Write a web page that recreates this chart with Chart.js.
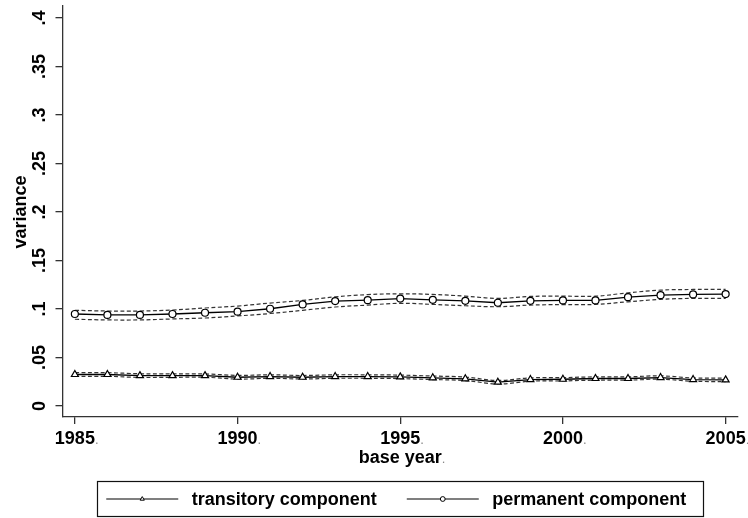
<!DOCTYPE html>
<html>
<head>
<meta charset="utf-8">
<script src="https://cdn.jsdelivr.net/npm/chart.js@4/dist/chart.umd.min.js"></script>
<style>
  html, body { margin: 0; background: #fff; }
  #wrap { width: 748px; height: 518px; }
</style>
</head>
<body>
<div id="wrap"><canvas id="chart" width="748" height="518"></canvas></div>
<script>
// base years and estimated variances
const years = [1985,1986,1987,1988,1989,1990,1991,1992,1993,1994,1995,1996,1997,1998,1999,2000,2001,2002,2003,2004,2005];
const transitory   = [0.0325,0.0325,0.0314,0.0314,0.0314,0.0297,0.0304,0.0297,0.0304,0.0304,0.0301,0.0291,0.0281,0.0246,0.0273,0.0276,0.0284,0.0284,0.0294,0.0273,0.0270];
const transitoryHi = [0.0345,0.0344,0.0333,0.0332,0.0331,0.0316,0.0322,0.0315,0.0322,0.0322,0.0319,0.0309,0.0299,0.0264,0.0290,0.0293,0.0301,0.0301,0.0311,0.0290,0.0288];
const transitoryLo = [0.0305,0.0306,0.0295,0.0296,0.0297,0.0278,0.0286,0.0279,0.0286,0.0286,0.0283,0.0273,0.0263,0.0228,0.0256,0.0259,0.0267,0.0267,0.0277,0.0256,0.0252];
const permanent    = [0.0949,0.0939,0.0939,0.0949,0.0962,0.0973,0.1003,0.1048,0.1082,0.1092,0.1108,0.1095,0.1085,0.1065,0.1085,0.1089,0.1089,0.1123,0.1143,0.1151,0.1154];
const permanentHi  = [0.0987,0.0980,0.0980,0.0990,0.1011,0.1031,0.1062,0.1089,0.1126,0.1149,0.1157,0.1151,0.1133,0.1110,0.1130,0.1133,0.1133,0.1167,0.1195,0.1202,0.1202];
const permanentLo  = [0.0895,0.0888,0.0888,0.0898,0.0908,0.0929,0.0954,0.0987,0.1021,0.1041,0.1059,0.1048,0.1034,0.1024,0.1041,0.1046,0.1048,0.1075,0.1100,0.1110,0.1110];

const xTicks = [1985, 1990, 1995, 2000, 2005];
const yTicks = [0, 0.05, 0.1, 0.15, 0.2, 0.25, 0.3, 0.35, 0.4];
const yTickLabels = ['0', '.05', '.1', '.15', '.2', '.25', '.3', '.35', '.4'];
const xTitle = 'base year';
const yTitle = 'variance';
const seriesLabels = ['transitory component', 'permanent component'];

const FONT = 'bold 18px "Liberation Sans", Arial, sans-serif';
const DOT_FONT = '13px "Liberation Sans", Arial, sans-serif';
const AXIS = '#333';

function txt(ctx, s, x, y, rot, align, font, color) {
  ctx.save();
  ctx.translate(x, y);
  ctx.rotate(rot || 0);
  ctx.font = font || FONT;
  ctx.fillStyle = color || '#000';
  ctx.textAlign = align || 'left';
  ctx.textBaseline = 'alphabetic';
  ctx.fillText(s, 0, 0);
  ctx.restore();
}
function txtWidth(ctx, s) {
  ctx.save(); ctx.font = FONT;
  const w = ctx.measureText(s).width;
  ctx.restore();
  return w;
}
// centred bold text followed by the faint trailing dot seen in the reference
function dotted(ctx, s, cx, y) {
  const w = txtWidth(ctx, s);
  txt(ctx, s, cx - w / 2, y);
  txt(ctx, '.', cx + w / 2, y, 0, 'left', DOT_FONT, '#888');
}
function marker(ctx, style, x, y, r) {
  ctx.beginPath();
  if (style === 'circle') {
    ctx.arc(x, y, r, 0, Math.PI * 2);
  } else {
    ctx.moveTo(x, y - r);
    ctx.lineTo(x + 0.866 * r, y + 0.5 * r);
    ctx.lineTo(x - 0.866 * r, y + 0.5 * r);
    ctx.closePath();
  }
  ctx.fillStyle = '#fff'; ctx.fill();
  ctx.strokeStyle = '#000'; ctx.lineWidth = 1; ctx.stroke();
}

const pts = arr => years.map((x, i) => ({ x, y: arr[i] }));
const mainLine = (label, arr, style, r) => ({
  label, data: pts(arr), borderColor: '#000', borderWidth: 1.3, tension: 0,
  pointStyle: style, pointRadius: r, pointBackgroundColor: '#fff',
  pointBorderColor: '#000', pointBorderWidth: 1.2
});
const band = arr => ({
  label: '', data: pts(arr), borderColor: '#333', borderWidth: 1.2,
  borderDash: [4, 2.5], pointRadius: 0, tension: 0.4
});

const stataText = {
  id: 'stataText',
  afterDraw(chart) {
    const ctx = chart.ctx, xs = chart.scales.x, ys = chart.scales.y, ca = chart.chartArea;
    // y tick labels, rotated as in Stata
    yTicks.forEach((v, i) => txt(ctx, yTickLabels[i], 45, ys.getPixelForValue(v), -Math.PI / 2, 'center'));
    // x tick labels
    xTicks.forEach(v => dotted(ctx, String(v), xs.getPixelForValue(v), 444));
    const cx = (ca.left + ca.right) / 2;
    dotted(ctx, xTitle, cx, 463);
    txt(ctx, yTitle, 26, (ys.getPixelForValue(0) + ys.getPixelForValue(0.4)) / 2, -Math.PI / 2, 'center');

    // legend box
    const bw = 606, bx = cx - bw / 2, by = 481.5, bh = 35, my = by + bh / 2;
    ctx.save();
    ctx.strokeStyle = '#111'; ctx.lineWidth = 1.2;
    ctx.strokeRect(Math.round(bx) + 0.5, by, bw, bh);
    ctx.restore();
    let x = bx + 9;
    chart.data.datasets.filter(d => d.label).forEach(d => {
      ctx.save();
      ctx.strokeStyle = '#000'; ctx.lineWidth = 1.2;
      ctx.beginPath(); ctx.moveTo(x, my); ctx.lineTo(x + 72, my); ctx.stroke();
      ctx.restore();
      marker(ctx, d.pointStyle, x + 36, my, 2.4);
      txt(ctx, d.label, x + 85.5, my + 6.4);
      x += 85.5 + txtWidth(ctx, d.label) + 30;
    });
  }
};

new Chart(document.getElementById('chart'), {
  type: 'line',
  data: {
    datasets: [
      mainLine(seriesLabels[0], transitory, 'triangle', 4),
      mainLine(seriesLabels[1], permanent, 'circle', 3.5),
      band(transitoryHi), band(transitoryLo),
      band(permanentHi), band(permanentLo)
    ]
  },
  options: {
    responsive: false,
    animation: false,
    devicePixelRatio: 1,
    layout: { padding: { top: 2, right: 10, left: 0, bottom: 0 } },
    plugins: { legend: { display: false }, tooltip: { enabled: false } },
    scales: {
      x: {
        type: 'linear', min: 1984.62, max: 2005.38,
        afterBuildTicks: s => { s.ticks = xTicks.map(v => ({ value: v })); },
        afterFit: s => { s.height = 101; },
        ticks: { display: false },
        grid: { drawOnChartArea: false, drawTicks: true, tickLength: 7, color: AXIS, lineWidth: 1.3 },
        border: { display: true, color: AXIS, width: 1.3 }
      },
      y: {
        type: 'linear', min: -0.0113, max: 0.4133,
        afterBuildTicks: s => { s.ticks = yTicks.map(v => ({ value: v })); },
        afterFit: s => { s.width = 62.5; },
        ticks: { display: false },
        grid: { drawOnChartArea: false, drawTicks: true, tickLength: 7, color: AXIS, lineWidth: 1.3 },
        border: { display: true, color: AXIS, width: 1.3 }
      }
    }
  },
  plugins: [stataText]
});
</script>
</body>
</html>
